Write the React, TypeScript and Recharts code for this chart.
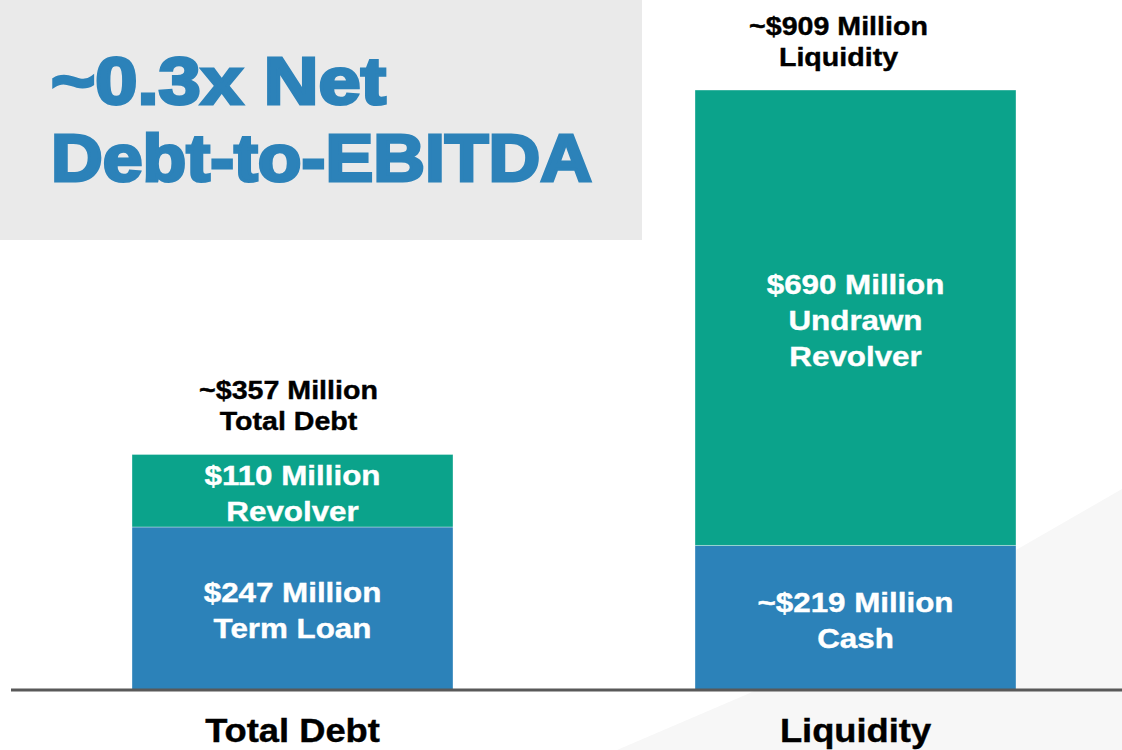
import React from "react";
import { BarChart, Bar, XAxis, YAxis, LabelList } from "recharts";

const categories = ["Total Debt", "Liquidity"];
const baseValues = [247, 219];
const upperValues = [110, 690];
const baseLabels = [["$247 Million", "Term Loan"], ["~$219 Million", "Cash"]];
const upperLabels = [["$110 Million", "Revolver"], ["$690 Million", "Undrawn", "Revolver"]];
const totalLabels = [["~$357 Million", "Total Debt"], ["~$909 Million", "Liquidity"]];
const titleLines = ["~0.3x Net", "Debt-to-EBITDA"];

const data = categories.map((c, i) => ({
  name: c,
  base: baseValues[i],
  upper: upperValues[i],
}));

const BLUE = "#2C82B9";
const TEAL = "#0BA38B";
const FONT = "'Liberation Sans', Arial, Helvetica, sans-serif";
const STRETCH = 1.1;
const totalLabelShift = [-4, -17];

function SText({ x, y, size, fill, children }: any) {
  return (
    <text
      x={0}
      y={0}
      transform={`translate(${x},${y}) scale(${STRETCH},1)`}
      textAnchor="middle"
      fontFamily={FONT}
      fontWeight="bold"
      fontSize={size}
      fill={fill}
      stroke={fill}
      strokeWidth={0.4}
    >
      {children}
    </text>
  );
}

function insideLabel(lines: string[][]) {
  return (props: any) => {
    const { x, y, width, height, index } = props;
    const ls = lines[index] || [];
    const cx = Number(x) + Number(width) / 2;
    const cy = Number(y) + Number(height) / 2;
    const lh = 36;
    return (
      <g>
        {ls.map((t, k) => (
          <SText key={k} x={cx} y={cy - ((ls.length - 1) * lh) / 2 + k * lh + 12} size={28.5} fill="#ffffff">
            {t}
          </SText>
        ))}
      </g>
    );
  };
}

function totalLabel(props: any) {
  const { x, y, width, index } = props;
  const ls = totalLabels[index] || [];
  const cx = Number(x) + Number(width) / 2 + totalLabelShift[index];
  const top = Number(y);
  const lh = 31.5;
  return (
    <g>
      {ls.map((t, k) => (
        <SText key={k} x={cx} y={top - 24 - (ls.length - 1 - k) * lh} size={26} fill="#000000">
          {t}
        </SText>
      ))}
    </g>
  );
}

function CatTick(props: any) {
  const { x, y, payload } = props;
  return (
    <SText x={x} y={Number(y) + 44} size={33} fill="#000000">
      {payload.value}
    </SText>
  );
}

export default function App() {
  return (
    <div
      style={{
        position: "absolute",
        left: 0,
        top: 0,
        width: 1122,
        height: 750,
        overflow: "hidden",
        background: "#ffffff",
      }}
    >
      <svg width={1122} height={750} style={{ position: "absolute", left: 0, top: 0 }}>
        <polygon points="617,750 750,693 1016,550 1122,489 1122,750" fill="#f7f7f7" />
        <rect x={0} y={0} width={642} height={240} fill="#eaeaea" />
        <text
          x={51}
          y={104}
          fontFamily={FONT}
          fontWeight="bold"
          fontSize={66}
          fill={BLUE}
          stroke={BLUE}
          strokeWidth={3}
          strokeLinejoin="miter"
          textLength={335}
          lengthAdjust="spacingAndGlyphs"
        >
          {titleLines[0]}
        </text>
        <text
          x={51}
          y={181}
          fontFamily={FONT}
          fontWeight="bold"
          fontSize={66}
          fill={BLUE}
          stroke={BLUE}
          strokeWidth={3}
          strokeLinejoin="miter"
          textLength={541}
          lengthAdjust="spacingAndGlyphs"
        >
          {titleLines[1]}
        </text>
      </svg>
      <div style={{ position: "absolute", left: 0, top: 0 }}>
        <BarChart
          width={1122}
          height={750}
          data={data}
          margin={{ top: 30, right: -15, bottom: 0, left: 11 }}
          barSize={321}
        >
          <YAxis hide domain={[0, 1000]} type="number" />
          <XAxis
            dataKey="name"
            height={60}
            axisLine={{ stroke: "#595959", strokeWidth: 3 }}
            tickLine={false}
            tick={<CatTick />}
            interval={0}
          />
          <Bar dataKey="base" stackId="s" fill={BLUE} stroke="rgba(255,255,255,0.35)" strokeWidth={1} isAnimationActive={false}>
            <LabelList dataKey="base" content={insideLabel(baseLabels)} />
          </Bar>
          <Bar dataKey="upper" stackId="s" fill={TEAL} stroke="rgba(255,255,255,0.35)" strokeWidth={1} isAnimationActive={false}>
            <LabelList dataKey="upper" content={insideLabel(upperLabels)} />
            <LabelList dataKey="upper" content={totalLabel} />
          </Bar>
        </BarChart>
      </div>
    </div>
  );
}
